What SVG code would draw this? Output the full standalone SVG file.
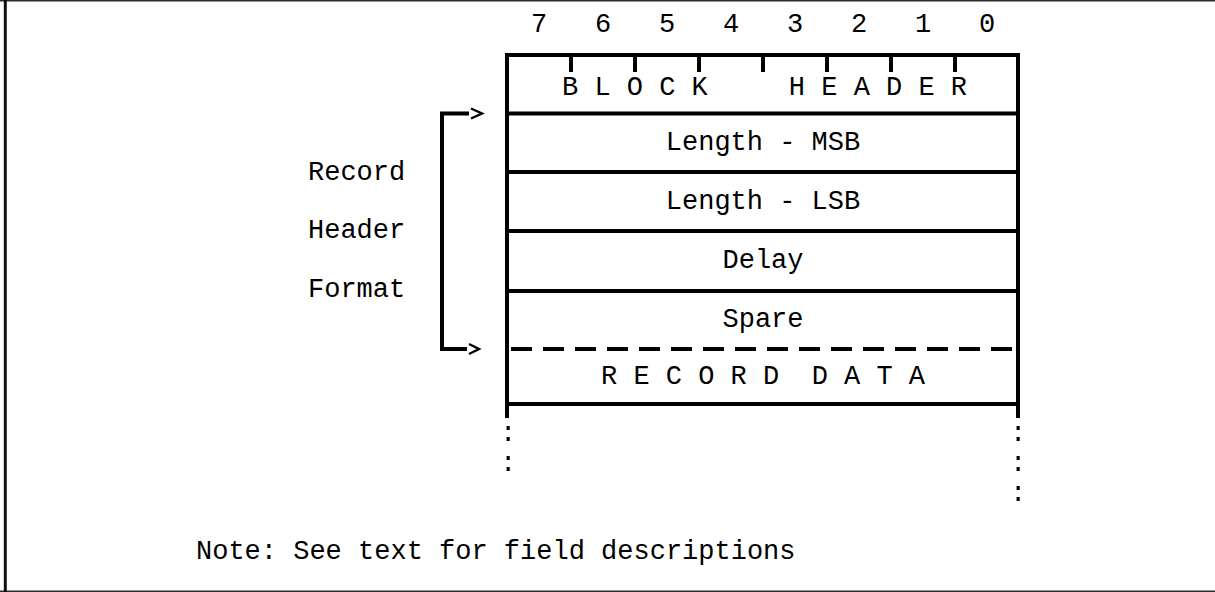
<svg xmlns="http://www.w3.org/2000/svg" width="1215" height="592" viewBox="0 0 1215 592">
  <style>
    .t { font-family: "Liberation Mono", "Courier New", monospace; font-size: 27px; fill: #000; }
    .c { text-anchor: middle; }
    .rule { stroke: #000; stroke-width: 4; fill: none; }
    .dash { stroke: #000; stroke-width: 4; fill: none; stroke-dasharray: 21 11; }
    .tick { stroke: #000; stroke-width: 4; }
    .chev { stroke: #000; stroke-width: 2.4; fill: none; stroke-linejoin: miter; }
  </style>

  <!-- page frame -->
  <rect x="0" y="0" width="1215" height="592" fill="#fff"/>
  <line x1="0" y1="0.75" x2="1215" y2="0.75" stroke="#2b2b2b" stroke-width="1.5"/>
  <line x1="0" y1="591.2" x2="1215" y2="591.2" stroke="#2b2b2b" stroke-width="1.6"/>
  <line x1="5.3" y1="0" x2="5.3" y2="592" stroke="#111" stroke-width="3"/>

  <!-- bit numbers -->
  <g id="bit-numbers" class="t c">
    <text x="539" y="32">7</text>
    <text x="603" y="32">6</text>
    <text x="667" y="32">5</text>
    <text x="731" y="32">4</text>
    <text x="795" y="32">3</text>
    <text x="859" y="32">2</text>
    <text x="923" y="32">1</text>
    <text x="987" y="32">0</text>
  </g>

  <!-- record layout frame -->
  <g id="frame">
    <line class="rule" x1="507" y1="53" x2="507" y2="418"/>
    <line class="rule" x1="1018" y1="53" x2="1018" y2="418"/>
    <line class="rule" x1="505" y1="55" x2="1020" y2="55"/>
    <g class="tick">
      <line x1="571" y1="55" x2="571" y2="72"/>
      <line x1="635" y1="55" x2="635" y2="72"/>
      <line x1="699" y1="55" x2="699" y2="72"/>
      <line x1="763" y1="55" x2="763" y2="72"/>
      <line x1="827" y1="55" x2="827" y2="72"/>
      <line x1="891" y1="55" x2="891" y2="72"/>
      <line x1="955" y1="55" x2="955" y2="72"/>
    </g>
    <line class="rule" x1="507" y1="113.5" x2="1018" y2="113.5"/>
    <line class="rule" x1="507" y1="172" x2="1018" y2="172"/>
    <line class="rule" x1="507" y1="231" x2="1018" y2="231"/>
    <line class="rule" x1="507" y1="291" x2="1018" y2="291"/>
    <line class="dash" x1="511" y1="349" x2="1018" y2="349"/>
    <line class="rule" x1="507" y1="404" x2="1018" y2="404"/>
  </g>

  <!-- fields -->
  <g id="block-header">
    <text class="t" x="562" y="95" xml:space="preserve">B L O C K     H E A D E R</text>
  </g>
  <g id="length-msb">
    <text class="t c" x="763" y="150">Length - MSB</text>
  </g>
  <g id="length-lsb">
    <text class="t c" x="763" y="209">Length - LSB</text>
  </g>
  <g id="delay">
    <text class="t c" x="763" y="268">Delay</text>
  </g>
  <g id="spare">
    <text class="t c" x="763" y="327">Spare</text>
  </g>
  <g id="record-data">
    <text class="t" x="601" y="384" xml:space="preserve">R E C O R D  D A T A</text>
  </g>

  <!-- continuation marks -->
  <g id="continuation" class="t c">
    <text x="508" y="441">:</text>
    <text x="508" y="471">:</text>
    <text x="1018" y="441">:</text>
    <text x="1018" y="471">:</text>
    <text x="1018" y="501">:</text>
  </g>

  <!-- side label -->
  <g id="record-header-format" class="t">
    <text x="308" y="180">Record</text>
    <text x="308" y="238">Header</text>
    <text x="308" y="297">Format</text>
  </g>

  <!-- bracket spanning the record header -->
  <g id="connectors">
    <path class="rule" d="M469,113.5 H442 V349 H467"/>
    <path class="chev" d="M471,108.5 L482,113.5 L471,118.5"/>
    <path class="chev" d="M469,344 L479,349 L469,354"/>
  </g>

  <!-- footnote -->
  <g id="note">
    <text class="t" x="196" y="559">Note: See text for field descriptions</text>
  </g>
</svg>
